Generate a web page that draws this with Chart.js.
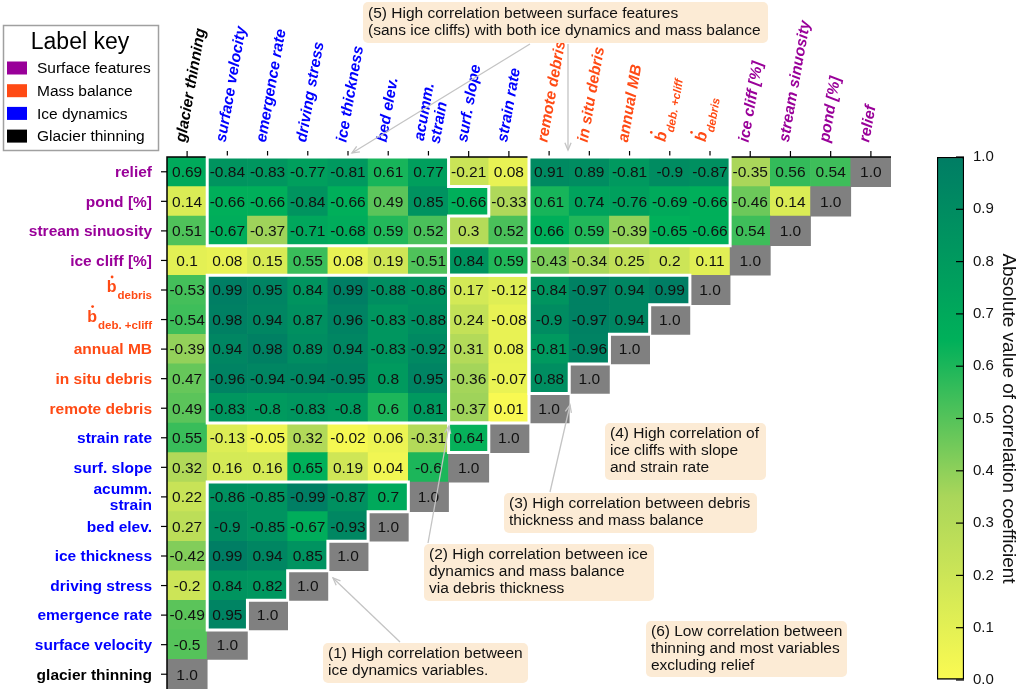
<!DOCTYPE html>
<html>
<head>
<meta charset="utf-8">
<script src="https://cdn.jsdelivr.net/npm/chart.js@4.4.0/dist/chart.umd.min.js"></script>
<style>
  body { margin: 0; background: #fff; }
  #wrap { position: relative; width: 1024px; height: 698px; overflow: hidden; }
  #heat { position: absolute; left: 0; top: 0; }
  #cbar { position: absolute; left: 900px; top: 0; }
</style>
</head>
<body>
<div id="wrap">
  <canvas id="heat" width="1024" height="698"></canvas>
  <canvas id="cbar" width="124" height="698"></canvas>
</div>
<script>
// ---- data ----
const columns = ['glacier thinning', 'surface velocity', 'emergence rate', 'driving stress',
  'ice thickness', 'bed elev.', 'acumm. strain', 'surf. slope', 'strain rate', 'remote debris',
  'in situ debris', 'annual MB', 'b deb.+cliff', 'b debris', 'ice cliff [%]',
  'stream sinuosity', 'pond [%]', 'relief'];
// rows, top to bottom
const rowNames = ['relief', 'pond [%]', 'stream sinuosity', 'ice cliff [%]', 'b debris',
  'b deb.+cliff', 'annual MB', 'in situ debris', 'remote debris', 'strain rate', 'surf. slope',
  'acumm. strain', 'bed elev.', 'ice thickness', 'driving stress', 'emergence rate',
  'surface velocity', 'glacier thinning'];

// each row: values left to right, last one is the diagonal
const relief = [0.69, -0.84, -0.83, -0.77, -0.81, 0.61, 0.77, -0.21, 0.08, 0.91, 0.89, -0.81, -0.9, -0.87, -0.35, 0.56, 0.54, 1.0];
const pond = [0.14, -0.66, -0.66, -0.84, -0.66, 0.49, 0.85, -0.66, -0.33, 0.61, 0.74, -0.76, -0.69, -0.66, -0.46, 0.14, 1.0];
const streamSinuosity = [0.51, -0.67, -0.37, -0.71, -0.68, 0.59, 0.52, 0.3, 0.52, 0.66, 0.59, -0.39, -0.65, -0.66, 0.54, 1.0];
const iceCliff = [0.1, 0.08, 0.15, 0.55, 0.08, 0.19, -0.51, 0.84, 0.59, -0.43, -0.34, 0.25, 0.2, 0.11, 1.0];
const bDebris = [-0.53, 0.99, 0.95, 0.84, 0.99, -0.88, -0.86, 0.17, -0.12, -0.84, -0.97, 0.94, 0.99, 1.0];
const bDebCliff = [-0.54, 0.98, 0.94, 0.87, 0.96, -0.83, -0.88, 0.24, -0.08, -0.9, -0.97, 0.94, 1.0];
const annualMB = [-0.39, 0.94, 0.98, 0.89, 0.94, -0.83, -0.92, 0.31, 0.08, -0.81, -0.96, 1.0];
const inSituDebris = [0.47, -0.96, -0.94, -0.94, -0.95, 0.8, 0.95, -0.36, -0.07, 0.88, 1.0];
const remoteDebris = [0.49, -0.83, -0.8, -0.83, -0.8, 0.6, 0.81, -0.37, 0.01, 1.0];
const strainRate = [0.55, -0.13, -0.05, 0.32, -0.02, 0.06, -0.31, 0.64, 1.0];
const surfSlope = [0.32, 0.16, 0.16, 0.65, 0.19, 0.04, -0.6, 1.0];
const acummStrain = [0.22, -0.86, -0.85, -0.99, -0.87, 0.7, 1.0];
const bedElev = [0.27, -0.9, -0.85, -0.67, -0.93, 1.0];
const iceThickness = [-0.42, 0.99, 0.94, 0.85, 1.0];
const drivingStress = [-0.2, 0.84, 0.82, 1.0];
const emergenceRate = [-0.49, 0.95, 1.0];
const surfaceVelocity = [-0.5, 1.0];
const glacierThinning = [1.0];

const matrix = [relief, pond, streamSinuosity, iceCliff, bDebris, bDebCliff, annualMB,
  inSituDebris, remoteDebris, strainRate, surfSlope, acummStrain, bedElev, iceThickness,
  drivingStress, emergenceRate, surfaceVelocity, glacierThinning];

const groupOf = {
  'relief': 'surf', 'pond [%]': 'surf', 'stream sinuosity': 'surf', 'ice cliff [%]': 'surf',
  'b debris': 'mb', 'b deb.+cliff': 'mb', 'annual MB': 'mb', 'in situ debris': 'mb', 'remote debris': 'mb',
  'strain rate': 'ice', 'surf. slope': 'ice', 'acumm. strain': 'ice', 'bed elev.': 'ice',
  'ice thickness': 'ice', 'driving stress': 'ice', 'emergence rate': 'ice', 'surface velocity': 'ice',
  'glacier thinning': 'thin'
};
const keyNames = ['Surface features', 'Mass balance', 'Ice dynamics', 'Glacier thinning'];
const keyGroups = ['surf', 'mb', 'ice', 'thin'];

// ---- style ----
const FONT = '"Liberation Sans", Arial, Helvetica, sans-serif';
const groupColor = { surf: '#990099', mb: '#ff4a14', ice: '#0000ff', thin: '#000000' };
const DIAG = '#808080';
const BOX = '#fcebd5';

const cmapStops = [
  [0.0, [250, 250, 82]],
  [0.35, [170, 214, 90]],
  [0.65, [0, 176, 90]],
  [1.0, [0, 125, 100]]
];
function cmap(t) {
  t = Math.max(0, Math.min(1, t));
  for (let i = 1; i < cmapStops.length; i++) {
    const [t1, c1] = cmapStops[i];
    const [t0, c0] = cmapStops[i - 1];
    if (t <= t1) {
      const f = (t - t0) / (t1 - t0);
      const c = c0.map((v, k) => Math.round(v + (c1[k] - v) * f));
      return `rgb(${c[0]},${c[1]},${c[2]})`;
    }
  }
}

// white outlines, in (column edge, row edge) units
const regions = [
  [[1, 0], [7, 0], [7, 1], [8, 1], [8, 2], [7, 2], [7, 3], [1, 3]],
  [[9, 0], [14, 0], [14, 3], [9, 3]],
  [[7, 3], [9, 3], [9, 4], [7, 4]],
  [[1, 4], [7, 4], [7, 9], [1, 9]],
  [[7, 4], [9, 4], [9, 9], [7, 9]],
  [[9, 4], [13, 4], [13, 5], [12, 5], [12, 6], [11, 6], [11, 7], [10, 7], [10, 8], [9, 8]],
  [[7, 9], [8, 9], [8, 10], [7, 10]],
  [[1, 11], [6, 11], [6, 12], [5, 12], [5, 13], [4, 13], [4, 14], [3, 14], [3, 15], [2, 15], [2, 16], [1, 16]]
];

const notes = [
  { box: [363, 2, 405, 41], lines: ['(5) High correlation between surface features', '(sans ice cliffs) with both ice dynamics and mass balance'], y0: 14 },
  { box: [605, 423, 161, 57], lines: ['(4) High correlation of', 'ice cliffs with slope', 'and strain rate'], y0: 434 },
  { box: [504, 493, 253, 40], lines: ['(3) High correlation between debris', 'thickness and mass balance'], y0: 504 },
  { box: [424, 544, 230, 57], lines: ['(2) High correlation between ice', 'dynamics and mass balance', 'via debris thickness'], y0: 555 },
  { box: [323, 643, 205, 40], lines: ['(1) High correlation between', 'ice dynamics variables.'], y0: 654 },
  { box: [646, 621, 201, 56], lines: ['(6) Low correlation between', 'thinning and most variables', 'excluding relief'], y0: 632 }
];
const arrows = [
  [[530, 44], [352, 153]],
  [[568, 44], [568, 150]],
  [[400, 642], [333, 578]],
  [[428, 543], [449, 426]],
  [[550, 492], [570, 405]]
];

// ---- helpers ----
function labelSpec(key) {
  if (key === 'b debris') return { b: true, sub: 'debris' };
  if (key === 'b deb.+cliff') return { b: true, sub: 'deb. +cliff' };
  if (key === 'acumm. strain') return { lines: ['acumm.', 'strain'] };
  return { lines: [key] };
}

function drawLabel(ctx, key, align, style) {
  const s = labelSpec(key);
  ctx.textBaseline = 'middle';
  if (s.b) {
    ctx.font = style + ' 16px ' + FONT;
    const wb = ctx.measureText('b').width;
    ctx.font = style + ' 11.5px ' + FONT;
    const ws = ctx.measureText(s.sub).width;
    const x0 = align === 'right' ? -(wb + ws + 1) : 0;
    ctx.textAlign = 'left';
    ctx.font = style + ' 16px ' + FONT;
    ctx.fillText('b', x0, -3);
    ctx.beginPath();
    ctx.arc(x0 + wb * 0.55 + (style.indexOf('italic') >= 0 ? 2 : 0), -14, 1.4, 0, Math.PI * 2);
    ctx.fill();
    ctx.font = style + ' 11.5px ' + FONT;
    ctx.fillText(s.sub, x0 + wb + 1, 5);
  } else {
    ctx.font = style + ' 15.5px ' + FONT;
    ctx.textAlign = align;
    const n = s.lines.length;
    s.lines.forEach((ln, i) => ctx.fillText(ln, 0, (i - (n - 1) / 2) * 16));
  }
}

function roundRect(ctx, x, y, w, h, r) {
  ctx.beginPath();
  ctx.moveTo(x + r, y);
  ctx.arcTo(x + w, y, x + w, y + h, r);
  ctx.arcTo(x + w, y + h, x, y + h, r);
  ctx.arcTo(x, y + h, x, y, r);
  ctx.arcTo(x, y, x + w, y, r);
  ctx.closePath();
}

// ---- heatmap ----
const cells = [];
matrix.forEach((vals, r) => vals.forEach((v, c) => {
  cells.push({ x: columns[c], y: [r - 0.5, r + 0.5], v: v, diag: c === vals.length - 1 });
}));

const decor = {
  id: 'decor',
  afterDatasetsDraw(chart) {
    const { ctx, scales: { x, y } } = chart;
    const ex = c => x.getPixelForValue(c - 0.5);
    const ey = r => y.getPixelForValue(r - 0.5);
    const L = ex(0), R = ex(columns.length), T = ey(0), B = ey(rowNames.length);
    ctx.save();

    // spines and ticks
    ctx.strokeStyle = '#000';
    ctx.lineWidth = 1.5;
    ctx.beginPath(); ctx.moveTo(L, B); ctx.lineTo(L, T); ctx.lineTo(R, T); ctx.stroke();
    ctx.lineWidth = 1.2;
    columns.forEach((k, i) => {
      const px = x.getPixelForValue(i);
      ctx.beginPath(); ctx.moveTo(px, T); ctx.lineTo(px, T - 6); ctx.stroke();
    });
    rowNames.forEach((k, i) => {
      const py = y.getPixelForValue(i);
      ctx.beginPath(); ctx.moveTo(L, py); ctx.lineTo(L - 6, py); ctx.stroke();
    });

    // region outlines
    ctx.strokeStyle = '#fff';
    ctx.lineWidth = 3;
    ctx.lineJoin = 'miter';
    regions.forEach(pts => {
      ctx.beginPath();
      pts.forEach(([c, r], i) => i ? ctx.lineTo(ex(c), ey(r)) : ctx.moveTo(ex(c), ey(r)));
      ctx.closePath();
      ctx.stroke();
    });

    // cell values
    ctx.fillStyle = '#111';
    ctx.font = '15.5px ' + FONT;
    ctx.textAlign = 'center';
    ctx.textBaseline = 'middle';
    matrix.forEach((vals, r) => vals.forEach((v, c) => {
      const txt = c === vals.length - 1 ? v.toFixed(1) : String(v);
      ctx.fillText(txt, x.getPixelForValue(c), y.getPixelForValue(r) + 1);
    }));

    // row labels
    rowNames.forEach((k, i) => {
      ctx.save();
      ctx.translate(L - 15, y.getPixelForValue(i) + 1);
      ctx.fillStyle = groupColor[groupOf[k]];
      drawLabel(ctx, k, 'right', 'bold');
      ctx.restore();
    });

    // column labels
    columns.forEach((k, i) => {
      ctx.save();
      const off = k === 'acumm. strain' ? -1 : -6;
      ctx.translate(x.getPixelForValue(i) + off, T - 15);
      ctx.rotate(-80 * Math.PI / 180);
      ctx.fillStyle = groupColor[groupOf[k]];
      drawLabel(ctx, k, 'left', 'italic bold');
      ctx.restore();
    });

    // label key
    ctx.strokeStyle = '#a0a0a0';
    ctx.lineWidth = 1.5;
    ctx.strokeRect(3.5, 25.5, 155, 125);
    ctx.fillStyle = '#000';
    ctx.font = '23px ' + FONT;
    ctx.textAlign = 'center';
    ctx.fillText('Label key', 80, 43);
    ctx.font = '15.5px ' + FONT;
    ctx.textAlign = 'left';
    keyNames.forEach((name, i) => {
      const yy = 68 + i * 22.7;
      ctx.fillStyle = groupColor[keyGroups[i]];
      ctx.fillRect(7, yy - 6.5, 20, 13);
      ctx.fillStyle = '#000';
      ctx.fillText(name, 37, yy + 1);
    });

    // arrows
    ctx.strokeStyle = '#c4c4c4';
    ctx.lineWidth = 1.3;
    arrows.forEach(([[x0, y0], [x1, y1]]) => {
      ctx.beginPath(); ctx.moveTo(x0, y0); ctx.lineTo(x1, y1); ctx.stroke();
      const a = Math.atan2(y1 - y0, x1 - x0);
      ctx.beginPath();
      ctx.moveTo(x1 - 8 * Math.cos(a - 0.4), y1 - 8 * Math.sin(a - 0.4));
      ctx.lineTo(x1, y1);
      ctx.lineTo(x1 - 8 * Math.cos(a + 0.4), y1 - 8 * Math.sin(a + 0.4));
      ctx.stroke();
    });

    // annotation boxes
    notes.forEach(n => {
      const [bx, by, bw, bh] = n.box;
      ctx.fillStyle = BOX;
      roundRect(ctx, bx, by, bw, bh, 5);
      ctx.fill();
      ctx.fillStyle = '#111';
      ctx.font = '15.5px ' + FONT;
      ctx.textAlign = 'left';
      ctx.textBaseline = 'middle';
      n.lines.forEach((ln, i) => ctx.fillText(ln, bx + 5, n.y0 + i * 17));
    });

    ctx.restore();
  }
};

new Chart(document.getElementById('heat'), {
  type: 'bar',
  data: {
    labels: columns,
    datasets: [{
      data: cells,
      backgroundColor: c => c.raw.diag ? DIAG : cmap(Math.abs(c.raw.v)),
      borderWidth: 0,
      barPercentage: 1,
      categoryPercentage: 1
    }]
  },
  options: {
    responsive: false,
    animation: false,
    layout: { padding: { left: 167, right: 133, top: 157, bottom: 9 } },
    plugins: { legend: { display: false }, tooltip: { enabled: false } },
    scales: {
      x: { type: 'category', display: false },
      y: { type: 'linear', min: -0.5, max: rowNames.length - 0.5, reverse: true, display: false }
    }
  },
  plugins: [decor]
});

// ---- colorbar ----
const cbInnerTicks = {
  id: 'cbInnerTicks',
  afterDatasetsDraw(chart) {
    const { ctx, chartArea: a, scales: { y } } = chart;
    ctx.save();
    ctx.strokeStyle = '#000';
    ctx.lineWidth = 1.2;
    y.ticks.forEach(t => {
      const py = y.getPixelForValue(t.value);
      ctx.beginPath(); ctx.moveTo(a.right - 8, py); ctx.lineTo(a.right, py); ctx.stroke();
    });
    ctx.restore();
  }
};

new Chart(document.getElementById('cbar'), {
  type: 'bar',
  data: {
    labels: ['|r|'],
    datasets: [{
      data: [[0, 1]],
      backgroundColor: c => {
        const a = c.chart.chartArea;
        if (!a) return cmap(0.5);
        const g = c.chart.ctx.createLinearGradient(0, a.bottom, 0, a.top);
        for (let t = 0; t <= 1.0001; t += 0.05) g.addColorStop(Math.min(1, t), cmap(t));
        return g;
      },
      borderColor: '#000',
      borderWidth: 1.5,
      borderSkipped: false,
      barPercentage: 1,
      categoryPercentage: 1
    }]
  },
  options: {
    responsive: false,
    animation: false,
    layout: { padding: { left: 37, right: 0, top: 157, bottom: 9 } },
    plugins: { legend: { display: false }, tooltip: { enabled: false } },
    scales: {
      x: { display: false },
      y: {
        position: 'right',
        min: 0, max: 1,
        grid: { drawOnChartArea: false, drawTicks: false },
        border: { display: false },
        ticks: {
          stepSize: 0.1, padding: 9, color: '#111',
          font: { size: 15, family: FONT },
          callback: v => v.toFixed(1)
        },
        title: {
          display: true, text: 'Absolute value of correlation coefficient',
          color: '#111', font: { size: 19, family: FONT }, padding: { top: 4, bottom: 2 }
        },
        afterFit: s => { s.width = 60; }
      }
    }
  },
  plugins: [cbInnerTicks]
});
</script>
</body>
</html>
